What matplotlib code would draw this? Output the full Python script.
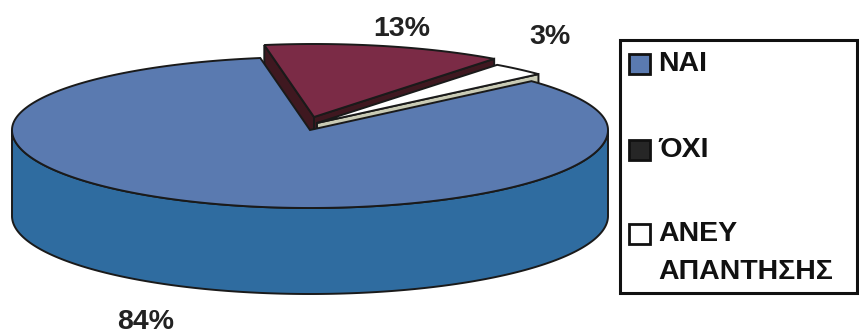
import numpy as np
import matplotlib
matplotlib.use("Agg")
import matplotlib.pyplot as plt
from matplotlib.patches import Polygon, Rectangle

# --- data -------------------------------------------------------------
categories = ["ΝΑΙ", "ΌΧΙ", "ΑΝΕΥ\nΑΠΑΝΤΗΣΗΣ"]
shares = [84, 13, 3]

# --- style ------------------------------------------------------------
top_colors = ["#5a7ab0", "#7b2b46", "#ffffff"]
wall_colors = ["#2f6ca0", "#3f1820", "#c9cbb5"]
legend_colors = ["#5a7ab0", "#262626", "#ffffff"]
edge = "#1a1a1a"
font = "Liberation Sans"

# pie geometry in pixel space
cx, cy = 310.0, 130.0      # centre of the top face
a = 298.0                  # horizontal semi-axis
b_back, b_front = 73.0, 78.0   # vertical semi-axes (far / near half)
depth = 86.0               # thickness of the disc
start_angle = 42.0         # first slice starts here, running clockwise
explode_px = [(0.0, 0.0), (4.0, -13.0), (7.0, -7.0)]

label_pos = [(146, 322), (402, 29), (550, 37)]

fig = plt.figure(figsize=(8.59, 3.36), dpi=100)
ax = fig.add_axes([0, 0, 1, 1])
ax.set_xlim(0, 859)
ax.set_ylim(336, 0)
ax.axis("off")


def proj(theta, off=(0.0, 0.0), dz=0.0):
    t = np.radians(theta)
    s = np.sin(t)
    bb = b_back if s > 0 else b_front
    return (cx + a * np.cos(t) + off[0], cy - bb * s + off[1] + dz)


# slice angle ranges (clockwise from start_angle)
total = float(sum(shares))
bounds = []
t = start_angle
for s in shares:
    t2 = t - 360.0 * s / total
    bounds.append((t, t2))
    t = t2


def draw_slice(i, z):
    t1, t2 = bounds[i]
    off = explode_px[i]
    thetas = np.linspace(t1, t2, max(8, int(abs(t1 - t2) * 2)))

    # front part of the outer wall
    s = np.sin(np.radians(thetas))
    front = thetas[s <= 0]
    if len(front) > 1:
        top = [proj(th, off) for th in front]
        bot = [proj(th, off, depth) for th in front[::-1]]
        ax.add_patch(Polygon(top + bot, closed=True, fc=wall_colors[i],
                             ec=edge, lw=1.4, zorder=z))

    # radial walls facing the viewer
    for th, visible in ((t1, np.cos(np.radians(t1)) < 0),
                        (t2, np.cos(np.radians(t2)) > 0)):
        if visible:
            c0 = (cx + off[0], cy + off[1])
            quad = [c0, proj(th, off), proj(th, off, depth),
                    (c0[0], c0[1] + depth)]
            ax.add_patch(Polygon(quad, closed=True, fc=wall_colors[i],
                                 ec=edge, lw=1.4, zorder=z))

    # top face
    pts = [(cx + off[0], cy + off[1])] + [proj(th, off) for th in thetas]
    ax.add_patch(Polygon(pts, closed=True, fc=top_colors[i], ec=edge,
                         lw=1.4, zorder=z + 0.5))


# paint back to front
draw_slice(1, 2)
draw_slice(2, 3)
draw_slice(0, 4)

# percentage labels
for s, (x, y) in zip(shares, label_pos):
    ax.text(x, y, f"{s}%", ha="center", va="center", family=font,
            fontweight="bold", fontsize=20.5, color="#222222", zorder=10)

# legend box
ax.add_patch(Rectangle((620, 40), 237, 253, fc="white", ec="#111111",
                       lw=2.2, zorder=6))
legend_rows = [64, 150, 234]
for lab, col, y in zip(categories, legend_colors, legend_rows):
    ax.add_patch(Rectangle((629, y - 10), 21, 20, fc=col, ec="#111111",
                           lw=2.0, zorder=7))
    lines = lab.split("\n")
    for k, line in enumerate(lines):
        ax.text(658, y + k * 38, line, ha="left", va="center", family=font,
                fontweight="bold", fontsize=20.5, color="#111111", zorder=8)

fig.savefig("out.png", dpi=100, facecolor="white")
